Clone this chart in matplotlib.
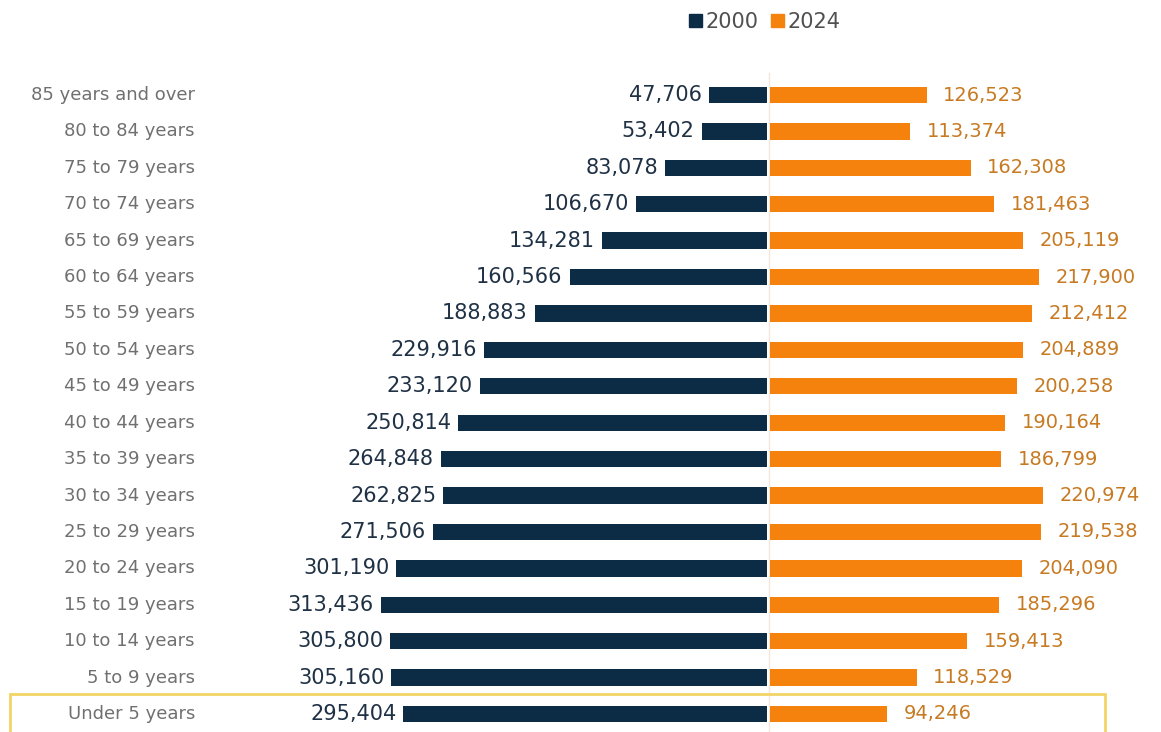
import matplotlib.pyplot as plt
import matplotlib.transforms as mtransforms
from matplotlib.patches import Rectangle, Patch

# data, bottom row first
age_groups = ["Under 5 years", "5 to 9 years", "10 to 14 years", "15 to 19 years",
              "20 to 24 years", "25 to 29 years", "30 to 34 years", "35 to 39 years",
              "40 to 44 years", "45 to 49 years", "50 to 54 years", "55 to 59 years",
              "60 to 64 years", "65 to 69 years", "70 to 74 years", "75 to 79 years",
              "80 to 84 years", "85 years and over"]
pop_2000 = [295404, 305160, 305800, 313436, 301190, 271506, 262825, 264848,
            250814, 233120, 229916, 188883, 160566, 134281, 106670, 83078,
            53402, 47706]
pop_2024 = [94246, 118529, 159413, 185296, 204090, 219538, 220974, 186799,
            190164, 200258, 204889, 212412, 217900, 205119, 181463, 162308,
            113374, 126523]
series_labels = ["2000", "2024"]

NAVY = "#0c2b45"
ORANGE = "#f5820c"
NAVY_TXT = "#1f3144"
ORANGE_TXT = "#c77a22"
GRAY_TXT = "#707070"

W, H = 1161, 732
fig = plt.figure(figsize=(W / 100, H / 100), dpi=100)
ax = fig.add_axes([0, 0, 1, 1])

px_per_unit = 0.001233
center_px = 769
ax.set_xlim(-center_px / px_per_unit, (W - center_px) / px_per_unit)
row_px = 36.4
ax.set_ylim(-18 / row_px, len(age_groups) - 1 + 95 / row_px)
ax.axis("off")

y = list(range(len(age_groups)))
bar_h = 0.45
gap = 1.5 / px_per_unit
ax.barh(y, [-v for v in pop_2000], left=-gap, height=bar_h, color=NAVY, zorder=3)
ax.barh(y, pop_2024, left=gap, height=bar_h, color=ORANGE, zorder=3)
ax.axvline(0, ymin=0.0, ymax=0.9, color="#f3e6da", lw=1, zorder=1)

for yi, v in zip(y, pop_2000):
    ax.annotate(f"{v:,}", (-v - gap, yi), xytext=(-5, 0), textcoords="offset points",
                ha="right", va="center", fontsize=15, color=NAVY_TXT)
for yi, v in zip(y, pop_2024):
    ax.annotate(f"{v:,}", (v + gap, yi), xytext=(12, 0), textcoords="offset points",
                ha="left", va="center", fontsize=14, color=ORANGE_TXT)

trans = mtransforms.blended_transform_factory(ax.transAxes, ax.transData)
for yi, name in zip(y, age_groups):
    ax.text(195 / W, yi, name, transform=trans, ha="right", va="center",
            fontsize=13, color=GRAY_TXT)

# highlight box around the youngest group
ax.add_patch(Rectangle((10 / W, -0.53), (1105 - 10) / W, 1.07, transform=trans,
                       fill=False, edgecolor="#f2d566", lw=2, zorder=4, clip_on=False))

handles = [Patch(color=NAVY), Patch(color=ORANGE)]
fig.legend(handles, series_labels, loc="center", bbox_to_anchor=(765 / W, 1 - 22 / H),
           ncol=2, frameon=False, fontsize=15, handlelength=0.6, handleheight=0.6,
           handletextpad=0.2, columnspacing=0.6, labelcolor="#505050")

fig.savefig("out.png", dpi=100)
